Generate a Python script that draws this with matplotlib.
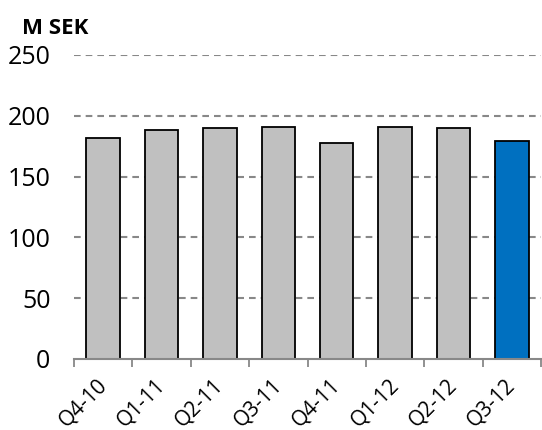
import matplotlib
matplotlib.use("Agg")
import matplotlib.pyplot as plt
import matplotlib.transforms as mtransforms
import numpy as np

quarters = ["Q4-10", "Q1-11", "Q2-11", "Q3-11", "Q4-11", "Q1-12", "Q2-12", "Q3-12"]
values = [182, 188, 190, 191, 178, 191, 190, 179]
bar_colors = ["#C0C0C0"] * 7 + ["#0070C0"]
y_ticks = [0, 50, 100, 150, 200, 250]

plt.rcParams["font.family"] = ["Open Sans", "DejaVu Sans"]

fig = plt.figure(figsize=(5.42, 4.30), dpi=100)
ax = fig.add_axes([74 / 542, (430 - 359) / 430, (541 - 74) / 542, (359 - 55) / 430])

x = np.arange(len(quarters))
ax.bar(x, values, width=0.575, color=bar_colors, edgecolor="black",
       linewidth=1.3, zorder=3)

ax.set_xlim(-0.5, len(quarters) - 0.5)
ax.set_ylim(0, 250)
ax.set_yticks(y_ticks)
ax.set_yticklabels([str(v) for v in y_ticks], fontsize=18)
ax.tick_params(axis="y", length=0, pad=17)

# dashed horizontal gridlines (none on the baseline)
for v in y_ticks[1:]:
    ax.axhline(v, color="#888888", linewidth=1.5, linestyle=(0, (3.2, 2.4)), zorder=1)

ax.set_xticks(x)
ax.set_xticklabels(quarters, fontsize=15, rotation=45, ha="right", va="top",
                   rotation_mode="anchor")
ax.tick_params(axis="x", which="major", length=0, pad=10)
shift = mtransforms.ScaledTranslation(-0.07, -0.02, fig.dpi_scale_trans)
for lbl in ax.get_xticklabels():
    lbl.set_transform(lbl.get_transform() + shift)
ax.set_xticks(np.arange(-0.5, len(quarters) + 0.5, 1), minor=True)
ax.tick_params(axis="x", which="minor", length=6, width=1.3, color="#888888",
               direction="out")

for side in ("left", "right", "top"):
    ax.spines[side].set_visible(False)
ax.spines["bottom"].set_color("#888888")
ax.spines["bottom"].set_linewidth(1.5)
ax.spines["bottom"].set_zorder(4)

fig.text(22 / 542, 1 - 28 / 430, "M SEK", fontsize=16, fontweight="bold",
         ha="left", va="center")

fig.savefig("out.png", dpi=100)
